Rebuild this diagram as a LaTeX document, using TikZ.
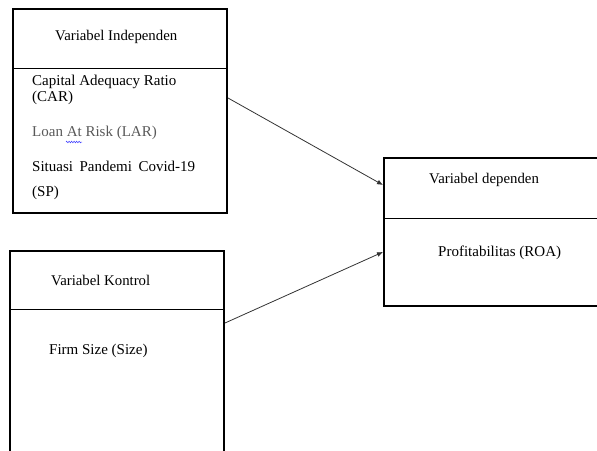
\documentclass[tikz,border=0pt]{standalone}
\usepackage{fontspec}
\setmainfont{Liberation Serif}
\usetikzlibrary{arrows.meta,decorations.pathmorphing}
\begin{document}
\begin{tikzpicture}[x=1pt,y=-1pt,
  box/.style={draw=black,line width=2.2pt,inner sep=0pt,anchor=north west},
  divider/.style={draw=black,line width=0.9pt},
  link/.style={draw=black!80,line width=0.8pt,-{Latex[length=6pt,width=5pt]}},
  head/.style={font=\fontsize{14.8}{17}\selectfont,inner sep=0pt,anchor=west},
  item/.style={font=\fontsize{15}{17}\selectfont,inner sep=0pt,anchor=west}]
\useasboundingbox (0,0) rectangle (597,450);
\begin{scope}
\clip (0,0) rectangle (597,450);
% boxes
\node[box,minimum width=214pt,minimum height=204pt] (ind) at (12,8) {};
\node[box,minimum width=214pt,minimum height=220pt] (kon) at (9,250) {};
\node[box,minimum width=230pt,minimum height=148pt] (dep) at (383,157) {};
% dividers
\draw[divider] (12,68) -- (227,68);
\draw[divider] (9,309) -- (224,309);
\draw[divider] (383,218) -- (597,218);
\end{scope}
% texts
\node[head] (hind) at (55,37) {Variabel Independen};
\node[item] (car1) at (32,82) {Capital Adequacy Ratio};
\node[item] (car2) at (32,98) {(CAR)};
\node[item,text=black!65] (lar) at (32,133) {Loan At Risk (LAR)};
\node[item] (sp1) at (32,166) {\makebox[163pt][s]{Situasi Pandemi Covid-19}};
\node[item] (sp2) at (32,193) {(SP)};
\coordinate (sq1) at (66,142);
\coordinate (sq2) at (82,142);
\draw[blue!80,line width=0.5pt,decorate,decoration={zigzag,segment length=2.5pt,amplitude=0.8pt}] (sq1) -- (sq2);
\node[head] (hkon) at (51,280) {Variabel Kontrol};
\node[item] (firm) at (49,351) {Firm Size (Size)};
\node[head] (hdep) at (429,180) {Variabel dependen};
\node[item] (roa) at (438,253) {Profitabilitas (ROA)};
% connectors
\coordinate (a1s) at (228,98);
\coordinate (a1e) at (383,185);
\coordinate (a2s) at (225,323);
\coordinate (a2e) at (383,252);
\draw[link] (a1s) -- (a1e);
\draw[link] (a2s) -- (a2e);
\end{tikzpicture}
\end{document}
